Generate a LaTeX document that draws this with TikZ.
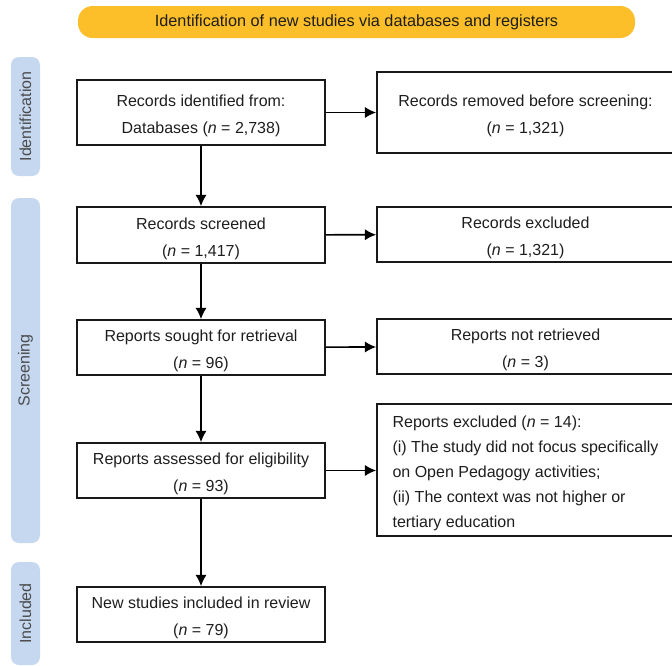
\documentclass[tikz,border=0pt]{standalone}
\usepackage{fontspec}
\setmainfont{Liberation Sans}
\usetikzlibrary{arrows.meta}
\definecolor{prismayellow}{RGB}{252,191,41}
\definecolor{prismablue}{RGB}{197,216,240}
\definecolor{prismatext}{RGB}{30,30,30}
\newcommand\tstrut{\rule{0pt}{14pt}}
\tikzset{
	box/.style={draw=black!90,line width=1.3pt,text=prismatext,align=center,
		font=\fontsize{12}{20}\selectfont,inner sep=0pt},
	leftbox/.style={box,minimum width=186pt,minimum height=41.25pt},
	rightbox/.style={box,minimum width=222.75pt,minimum height=41.25pt},
	phase/.style={fill=prismablue,rounded corners=6pt,minimum height=21.75pt,
		text=prismatext!80,font=\fontsize{12}{14}\selectfont,rotate=90,inner sep=0pt},
	banner/.style={fill=prismayellow,rounded corners=11pt,minimum width=417.75pt,
		minimum height=24pt,text=prismatext,font=\fontsize{12.2}{14}\selectfont},
	flow/.style={-{Latex[length=8.5pt,width=8.5pt]},line width=1.2pt},
}
\begin{document}
\begin{tikzpicture}[x=0.75pt,y=-0.75pt]
	\useasboundingbox (0,0) rectangle (672,665) ;
	\clip (0,0) rectangle (672,665) ;
	% header and phases
	\node[banner] (head) at (356.5,22) {Identification of new studies via databases and registers} ;
	\node[phase,minimum width=89.25pt] (ident) at (25.5,116.5) {Identification} ;
	\node[phase,minimum width=258.75pt] (screen) at (25.5,370.5) {Screening} ;
	\node[phase,minimum width=77.25pt] (incl) at (25.5,613.5) {Included} ;
	% main column
	\node[leftbox,minimum height=48.75pt] (found) at (201,112.5) {\tstrut Records identified from:\\Databases (\textit{n} = 2,738)} ;
	\node[leftbox,minimum height=42pt] (screened) at (201,235) {\tstrut Records screened\\(\textit{n} = 1,417)} ;
	\node[leftbox] (sought) at (201,347.5) {\tstrut Reports sought for retrieval\\(\textit{n} = 96)} ;
	\node[leftbox] (assessed) at (201,470.5) {\tstrut Reports assessed for eligibility\\(\textit{n} = 93)} ;
	\node[leftbox] (included) at (201,614.5) {\tstrut New studies included in review\\(\textit{n} = 79)} ;
	% side column
	\node[rightbox,minimum height=60.75pt] (removed) at (525.5,112.5) {\tstrut Records removed before screening:\\(\textit{n} = 1,321)} ;
	\node[rightbox] (excl) at (525.5,234.5) {\tstrut Records excluded\\(\textit{n} = 1,321)} ;
	\node[rightbox] (notret) at (525.5,346.5) {\tstrut Reports not retrieved\\(\textit{n} = 3)} ;
	\node[rightbox,minimum height=99pt,align=left,font=\fontsize{12}{18.75}\selectfont] (rexcl) at (525.5,470) {\tstrut Reports excluded (\textit{n} = 14):\\(i) The study did not focus specifically\\on Open Pedagogy activities;\\(ii) The context was not higher or\\tertiary education} ;
	% arrows
	\draw[flow] (found)--(screened) ;
	\draw[flow] (screened)--(sought) ;
	\draw[flow] (sought)--(assessed) ;
	\draw[flow] (assessed)--(included) ;
	\draw[flow] (found)--(removed) ;
	\draw[flow] (screened)--(excl) ;
	\draw[flow] (sought)--(notret) ;
	\draw[flow] (assessed.east)--(assessed.east-|rexcl.west) ;
\end{tikzpicture}
\end{document}
